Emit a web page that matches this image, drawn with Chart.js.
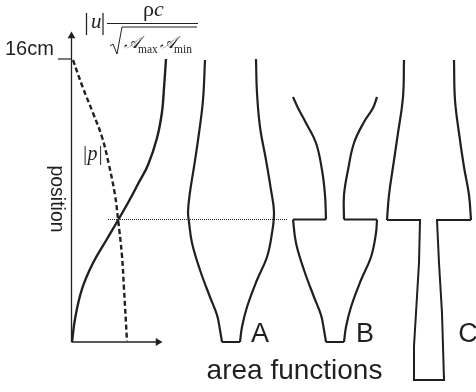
<!DOCTYPE html>
<html><head><meta charset="utf-8">
<script src="https://cdn.jsdelivr.net/npm/chart.js@4/dist/chart.umd.min.js"></script>
<style>html,body{margin:0;padding:0;background:#fff}canvas{display:block}</style>
</head><body><canvas id="c" width="476" height="392"></canvas>
<script>
// Curves, as [x, y] in the figure's own plot units
const velocity = [[72,342],[75,319],[82,289],[93,263],[107,239],[117,222],[129,201],[138,184],[148,165],[157,138],[162,112],[164,88],[166,59]];
const pressure = [[73,60],[83,88],[93,113],[102,137],[109,165],[115,195],[118,219],[122,256],[124,289],[127,341]];
const areaAUpper = [[205,60],[203,100],[199,133],[194,167],[190,192],[188,212],[189,222],[192,243],[200,270],[210,297],[217,315],[220,330],[222,342]];
const areaALower = [[240,342],[242,327],[247,307],[257,280],[267,257],[272,233],[274,212],[271,190],[266,160],[260,127],[257,93],[256,59]];
const areaABase = [[222,342],[240,342]];
const areaBTopL = [[293,97],[298,108],[306,123],[316,143],[322,170],[325,195],[326,219.5]];
const areaBBotL = [[293,219.5],[296,243],[304,270],[314,297],[321,315],[324,330],[326,342]];
const areaBBotR = [[344,342],[346,327],[351,307],[361,280],[371,257],[376,233],[377,219.5]];
const areaBTopR = [[344,219.5],[344,195],[348,170],[354,143],[364,122],[373,108],[377,97]];
const areaBSteps = [[[326,219.5],[293,219.5]],[[326,342],[344,342]],[[377,219.5],[344,219.5]]];
const areaCTopL = [[404,60],[403,97],[398,133],[393,167],[389,195],[387,220]];
const areaCTube = [[387,220],[420,220],[419,263],[416,313],[414,346],[414,380],[444,380],[443,346],[442,313],[439,263],[437,220],[471,220]];
const areaCTopR = [[471,220],[469,195],[464,167],[459,133],[455,100],[454,60]];
const yAxisLine = [[71.5,342],[71.5,36]];
const xAxisLine = [[71.5,342],[158,342]];
const tickLine = [[58,59],[72,59]];
const midLine = [[108,219.5],[287,219.5]];
const labels = {tick:'16cm',y:'position',x:'area functions',a:'A',b:'B',c:'C',p:'|p|'};

const ink = '#231f20';
const pts = a => a.map(p => ({x:p[0], y:p[1]}));
const curve = (a,w=2.2) => ({data:pts(a),borderColor:ink,borderWidth:w,tension:0.4,pointRadius:0,fill:false,borderCapStyle:'butt'});
const straight = (a,w=1.6) => ({data:pts(a),borderColor:ink,borderWidth:w,tension:0,pointRadius:0,fill:false,borderJoinStyle:'miter'});
const arrow = (a,rot) => Object.assign(straight(a,1.3),{pointStyle:'triangle',pointRadius:[0,4.5],pointRotation:rot,pointBackgroundColor:ink,pointBorderColor:ink,pointBorderWidth:0});

const textPlugin = {id:'txt',afterDatasetsDraw(ch){
  const g = ch.ctx, xs = ch.scales.x, ys = ch.scales.y;
  const put = (t,x,y,font,al='left') => {g.font=font;g.textAlign=al;g.fillText(t,xs.getPixelForValue(x),ys.getPixelForValue(y));};
  g.save(); g.fillStyle=ink; g.strokeStyle=ink; g.textBaseline='alphabetic';
  const sans='"Liberation Sans",Arial,sans-serif', serif='"Liberation Serif",serif';
  put(labels.tick,5,55,'20px '+sans);
  put(labels.a,260,342,'27px '+sans,'center');
  put(labels.b,365,342,'27px '+sans,'center');
  put(labels.c,468,342,'27px '+sans,'center');
  put(labels.x,294.5,379,'28px '+sans,'center');
  put('|',84,30,'25px '+serif);
  put('u',91,28,'italic 21px '+serif);
  put('|',100.5,30,'25px '+serif);
  put('ρ',143,16,'22px '+serif);
  put('c',154,16,'italic 22px '+serif);
  g.lineWidth=1;
  g.beginPath(); g.moveTo(107,23.5); g.lineTo(198,23.5); g.stroke();
  g.beginPath(); g.moveTo(110,46); g.lineTo(113,44); g.lineTo(117,54); g.lineTo(122,27); g.lineTo(197,27); g.stroke();
  put('𝒜',124,48,'italic 17px '+serif);
  put('max',138,53,'11.5px '+serif);
  put('𝒜',160,48,'italic 17px '+serif);
  put('min',174,53,'11.5px '+serif);
  put(labels.p,82,160,'italic 20px '+serif);
  g.save(); g.translate(xs.getPixelForValue(51),ys.getPixelForValue(199)); g.rotate(Math.PI/2);
  g.font='19.5px '+sans; g.textAlign='center'; g.fillText(labels.y,0,0); g.restore();
  g.restore();
}};

new Chart(document.getElementById('c'),{
  type:'scatter',
  data:{datasets:[
    arrow(yAxisLine,0), arrow(xAxisLine,90), straight(tickLine,1.2),
    Object.assign(straight(midLine,1),{borderDash:[1,1]}),
    curve(velocity,2.4),
    Object.assign(curve(pressure,2.4),{borderDash:[5,3]}),
    curve(areaAUpper), curve(areaALower), straight(areaABase,2),
    curve(areaBTopL), curve(areaBBotL), curve(areaBBotR), curve(areaBTopR),
    ...areaBSteps.map(s=>straight(s,2)),
    curve(areaCTopL), straight(areaCTube,2), curve(areaCTopR)
  ]},
  options:{
    responsive:false,animation:false,showLine:true,
    layout:{padding:0,autoPadding:false},
    plugins:{legend:{display:false},tooltip:{enabled:false}},
    elements:{line:{capBezierPoints:true}},
    scales:{
      x:{type:'linear',min:0,max:476,display:false},
      y:{type:'linear',min:0,max:392,reverse:true,display:false}
    }
  },
  plugins:[textPlugin]
});
</script></body></html>
